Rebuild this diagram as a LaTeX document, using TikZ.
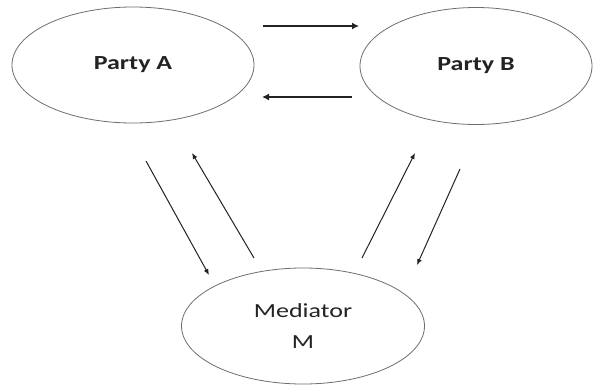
\documentclass[tikz,border=0pt]{standalone}
\usepackage{fontspec}
\setmainfont{Carlito}
\usetikzlibrary{shapes.geometric,arrows.meta}
\definecolor{rim}{RGB}{110,110,110}
\definecolor{ink}{RGB}{35,35,35}
\tikzset{
  party/.style={ellipse, draw=rim, line width=0.8pt, inner sep=0pt, text=ink, font=\fontsize{20}{24}\selectfont},
  flow/.style={draw=ink, line width=2.4pt, -{Latex[length=7pt,width=7pt]}},
  link/.style={draw=ink, line width=1pt, -{Latex[length=6pt,width=5pt]}}
}
\newcommand{\wide}[1]{\scalebox{1.3}[1]{#1}}
\begin{document}
\begin{tikzpicture}[x=1pt,y=-1pt]
  \useasboundingbox (0,0) rectangle (595,384);
  \fill[white] (0,0) rectangle (595,384);
  \begin{scope}
    \clip (0,0) rectangle (595,384);
    \node[party, minimum width=242pt, minimum height=116pt] (A) at (133,65) {\wide{\bfseries Party A}};
    \node[party, minimum width=232pt, minimum height=117pt] (B) at (476,66) {\wide{\bfseries Party B}};
    \node[party, minimum width=243pt, minimum height=116pt, align=center,
          font=\fontsize{20}{31}\selectfont] (M) at (303,326) {\wide{Mediator}\\\wide{M}};
  \end{scope}
  % exchange between the two parties
  \coordinate (ab1) at (263,26);  \coordinate (ab2) at (359,26);
  \coordinate (ba1) at (352,97);  \coordinate (ba2) at (262,97);
  \draw[flow] (ab1) -- (ab2);
  \draw[flow] (ba1) -- (ba2);
  % exchanges with the mediator
  \coordinate (am1) at (146,161); \coordinate (am2) at (209,275);
  \coordinate (ma1) at (254,258); \coordinate (ma2) at (192,153);
  \coordinate (mb1) at (362,258); \coordinate (mb2) at (415,153);
  \coordinate (bm1) at (460,169); \coordinate (bm2) at (417,265);
  \draw[link] (am1) -- (am2);
  \draw[link] (ma1) -- (ma2);
  \draw[link] (mb1) -- (mb2);
  \draw[link] (bm1) -- (bm2);
\end{tikzpicture}
\end{document}
